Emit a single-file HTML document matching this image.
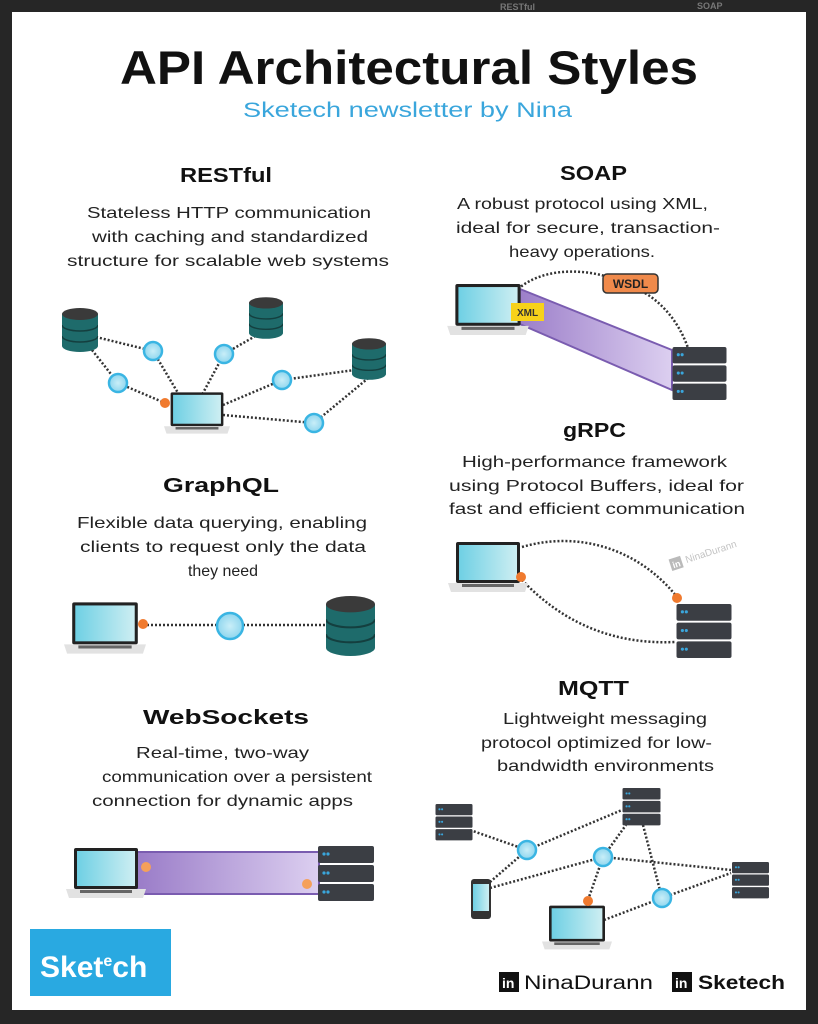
<!DOCTYPE html>
<html><head><meta charset="utf-8"><style>
html,body{margin:0;padding:0;background:#262626;}
svg{display:block;}
text{font-family:"Liberation Sans",sans-serif;}
</style></head><body>
<svg width="818" height="1024" viewBox="0 0 818 1024" xmlns="http://www.w3.org/2000/svg">
<defs>
<linearGradient id="scr" x1="0" x2="1"><stop offset="0" stop-color="#6fd0e4"/><stop offset="1" stop-color="#cdeef2"/></linearGradient>
<linearGradient id="pur" x1="0" x2="1"><stop offset="0" stop-color="#9a7cc8"/><stop offset="1" stop-color="#dccff0"/></linearGradient>
<radialGradient id="nd"><stop offset="0" stop-color="#c9eef8"/><stop offset="1" stop-color="#8fd6ee"/></radialGradient>
<symbol id="lap" viewBox="0 0 80 50">
<rect x="8" y="0" width="64" height="41" rx="2" fill="#222"/>
<rect x="11" y="3" width="58" height="35" fill="url(#scr)"/>
<path d="M0 41 H80 L77 50 H3 Z" fill="#e2e2e2"/>
<rect x="14" y="42" width="52" height="3" fill="#666"/>
</symbol>
<symbol id="srv" viewBox="0 0 56 56">
<rect x="0" y="0" width="56" height="17" rx="2" fill="#3b3e44"/>
<rect x="0" y="19" width="56" height="17" rx="2" fill="#3b3e44"/>
<rect x="0" y="38" width="56" height="17" rx="2" fill="#3b3e44"/>
<circle cx="6" cy="8" r="1.6" fill="#3aa6dc"/><circle cx="10" cy="8" r="1.6" fill="#3aa6dc"/>
<circle cx="6" cy="27" r="1.6" fill="#3aa6dc"/><circle cx="10" cy="27" r="1.6" fill="#3aa6dc"/>
<circle cx="6" cy="46" r="1.6" fill="#3aa6dc"/><circle cx="10" cy="46" r="1.6" fill="#3aa6dc"/>
</symbol>
<symbol id="db" viewBox="0 0 36 44">
<path d="M0 6 V38 A18 6 0 0 0 36 38 V6 Z" fill="#1e6b6b"/>
<ellipse cx="18" cy="6" rx="18" ry="6" fill="#3a3a3a"/>
<path d="M0 17 A18 6 0 0 0 36 17 M0 28 A18 6 0 0 0 36 28" stroke="#143f3f" stroke-width="1.5" fill="none"/>
</symbol>
</defs>
<rect width="818" height="1024" fill="#262626"/>
<text x="500" y="10" font-size="9" fill="#777" font-weight="bold">RESTful</text>
<text x="697" y="9" font-size="9" fill="#777" font-weight="bold">SOAP</text>
<rect x="12" y="12" width="794" height="998" fill="#ffffff"/>

<text x="120" y="84" font-size="47" font-weight="bold" fill="#111" textLength="578" lengthAdjust="spacingAndGlyphs">API Architectural Styles</text>
<text x="243" y="117" font-size="21" fill="#3aa6dc" textLength="329" lengthAdjust="spacingAndGlyphs">Sketech newsletter by Nina</text>

<g font-size="16" fill="#222">
<g font-size="20" font-weight="bold" fill="#111">
<text x="180" y="182" textLength="92" lengthAdjust="spacingAndGlyphs">RESTful</text>
<text x="560" y="180" textLength="67" lengthAdjust="spacingAndGlyphs">SOAP</text>
<text x="163" y="492" textLength="116" lengthAdjust="spacingAndGlyphs">GraphQL</text>
<text x="563" y="437" textLength="63" lengthAdjust="spacingAndGlyphs">gRPC</text>
<text x="143" y="724" textLength="166" lengthAdjust="spacingAndGlyphs">WebSockets</text>
<text x="558" y="695" textLength="71" lengthAdjust="spacingAndGlyphs">MQTT</text>
</g>
<text x="87" y="218" textLength="284" lengthAdjust="spacingAndGlyphs">Stateless HTTP communication</text>
<text x="92" y="242" textLength="276" lengthAdjust="spacingAndGlyphs">with caching and standardized</text>
<text x="67" y="266" textLength="322" lengthAdjust="spacingAndGlyphs">structure for scalable web systems</text>

<text x="457" y="209" textLength="251" lengthAdjust="spacingAndGlyphs">A robust protocol using XML,</text>
<text x="456" y="233" textLength="264" lengthAdjust="spacingAndGlyphs">ideal for secure, transaction-</text>
<text x="509" y="257" textLength="146" lengthAdjust="spacingAndGlyphs">heavy operations.</text>

<text x="77" y="528" textLength="290" lengthAdjust="spacingAndGlyphs">Flexible data querying, enabling</text>
<text x="80" y="552" textLength="286" lengthAdjust="spacingAndGlyphs">clients to request only the data</text>
<text x="188" y="576" textLength="70" lengthAdjust="spacingAndGlyphs">they need</text>

<text x="462" y="467" textLength="265" lengthAdjust="spacingAndGlyphs">High-performance framework</text>
<text x="449" y="491" textLength="295" lengthAdjust="spacingAndGlyphs">using Protocol Buffers, ideal for</text>
<text x="449" y="514" textLength="296" lengthAdjust="spacingAndGlyphs">fast and efficient communication</text>

<text x="136" y="758" textLength="173" lengthAdjust="spacingAndGlyphs">Real-time, two-way</text>
<text x="102" y="782" textLength="270" lengthAdjust="spacingAndGlyphs">communication over a persistent</text>
<text x="92" y="806" textLength="261" lengthAdjust="spacingAndGlyphs">connection for dynamic apps</text>

<text x="503" y="724" textLength="204" lengthAdjust="spacingAndGlyphs">Lightweight messaging</text>
<text x="481" y="748" textLength="231" lengthAdjust="spacingAndGlyphs">protocol optimized for low-</text>
<text x="497" y="771" textLength="217" lengthAdjust="spacingAndGlyphs">bandwidth environments</text>
</g>

<!-- RESTful -->
<g stroke="#333" stroke-width="2.5" stroke-dasharray="2 2" fill="none">
<path d="M96 337 L153 351 L178 393"/><path d="M92 350 L118 383 L165 403"/>
<path d="M266 330 L224 354 L203 393"/>
<path d="M223 405 L282 380 L369 368"/><path d="M223 415 L314 423 L372 375"/>
</g>
<use href="#db" x="62" y="308" width="36" height="44"/>
<use href="#db" x="249" y="297" width="34" height="42"/>
<use href="#db" x="352" y="338" width="34" height="42"/>
<g fill="url(#nd)" stroke="#3ab5e3" stroke-width="2.5">
<circle cx="153" cy="351" r="9"/><circle cx="224" cy="354" r="9"/><circle cx="118" cy="383" r="9"/><circle cx="282" cy="380" r="9"/><circle cx="314" cy="423" r="9"/>
</g>
<use href="#lap" x="164" y="392" width="66" height="42"/>
<circle cx="165" cy="403" r="5" fill="#f07a2e"/>

<!-- SOAP -->
<path d="M515 287 L672 350 L672 390 L515 322 Z" fill="url(#pur)" stroke="#7a5cb0" stroke-width="2"/>
<path d="M518 289 C540 270 575 268 605 276" stroke="#333" stroke-width="2.5" stroke-dasharray="2 2" fill="none"/>
<path d="M645 293 C665 305 680 325 688 348" stroke="#333" stroke-width="2.5" stroke-dasharray="2 2" fill="none"/>
<use href="#lap" x="447" y="284" width="82" height="51"/>
<rect x="511" y="303" width="33" height="18" fill="#f7d21a"/>
<text x="527.5" y="316" text-anchor="middle" font-size="10" font-weight="bold" fill="#333">XML</text>
<rect x="603" y="274" width="55" height="19" rx="4" fill="#f08a4b" stroke="#333" stroke-width="1.5"/>
<text x="630.5" y="288" text-anchor="middle" font-size="12" font-weight="bold" fill="#222">WSDL</text>
<use href="#srv" x="671" y="347" width="57" height="54"/>

<!-- GraphQL -->
<path d="M143 625 L326 625" stroke="#333" stroke-width="2.5" stroke-dasharray="2 2"/>
<use href="#lap" x="64" y="602" width="82" height="52"/>
<circle cx="143" cy="624" r="5" fill="#f07a2e"/>
<circle cx="230" cy="626" r="13" fill="url(#nd)" stroke="#3ab5e3" stroke-width="2.5"/>
<use href="#db" x="326" y="593" width="49" height="66"/>

<!-- gRPC -->
<g stroke="#333" stroke-width="2.5" stroke-dasharray="2 2" fill="none">
<path d="M522 547 C580 530 640 550 677 597"/>
<path d="M522 580 C560 620 610 645 675 642"/>
</g>
<use href="#lap" x="447" y="542" width="82" height="50"/>
<circle cx="521" cy="577" r="5" fill="#f07a2e"/>
<use href="#srv" x="675" y="604" width="58" height="55"/>
<circle cx="677" cy="598" r="5" fill="#f07a2e"/>
<g transform="translate(672,570) rotate(-18)" opacity="0.5">
<rect x="0" y="-11" width="12" height="12" fill="#777"/>
<text x="2" y="-1" font-size="9" font-weight="bold" fill="#fff">in</text>
<text x="16" y="-2" font-size="10" fill="#888">NinaDurann</text>
</g>

<!-- WebSockets -->
<rect x="137" y="852" width="182" height="42" fill="url(#pur)" stroke="#7a5cb0" stroke-width="2"/>
<use href="#lap" x="65" y="848" width="82" height="50"/>
<use href="#srv" x="317" y="846" width="58" height="56"/>
<circle cx="146" cy="867" r="5" fill="#f5a05a"/>
<circle cx="307" cy="884" r="5" fill="#f5a05a"/>

<!-- MQTT -->
<g stroke="#333" stroke-width="2.5" stroke-dasharray="2 2" fill="none">
<path d="M470 830 L527 850 L622 810"/><path d="M490 882 L527 850"/>
<path d="M490 888 L603 857 L731 870"/><path d="M588 900 L603 857 L626 825"/>
<path d="M643 825 L662 898 L731 873"/><path d="M604 920 L662 898"/>
</g>
<use href="#srv" x="435" y="804" width="38" height="37"/>
<use href="#srv" x="622" y="788" width="39" height="38"/>
<use href="#srv" x="731" y="862" width="39" height="37"/>
<g fill="url(#nd)" stroke="#3ab5e3" stroke-width="2.5">
<circle cx="527" cy="850" r="9"/><circle cx="603" cy="857" r="9"/><circle cx="662" cy="898" r="9"/>
</g>
<rect x="471" y="879" width="20" height="40" rx="3" fill="#333"/>
<rect x="473" y="884" width="16" height="27" fill="url(#scr)"/>
<use href="#lap" x="542" y="905" width="70" height="45"/>
<circle cx="588" cy="901" r="5" fill="#f07a2e"/>

<!-- footer -->
<rect x="30" y="929" width="141" height="67" fill="#29a9e1"/>
<text x="40" y="977" font-size="30" font-weight="bold" fill="#fff">Sket<tspan font-size="16" dy="-11">e</tspan><tspan dy="11">ch</tspan></text>
<rect x="499" y="972" width="20" height="20" fill="#111"/>
<text x="502" y="988" font-size="14" font-weight="bold" fill="#fff">in</text>
<text x="524" y="989" font-size="19" fill="#111" textLength="129" lengthAdjust="spacingAndGlyphs">NinaDurann</text>
<rect x="672" y="972" width="20" height="20" fill="#111"/>
<text x="675" y="988" font-size="14" font-weight="bold" fill="#fff">in</text>
<text x="698" y="989" font-size="19" font-weight="bold" fill="#111" textLength="87" lengthAdjust="spacingAndGlyphs">Sketech</text>
</svg>
</body></html>
